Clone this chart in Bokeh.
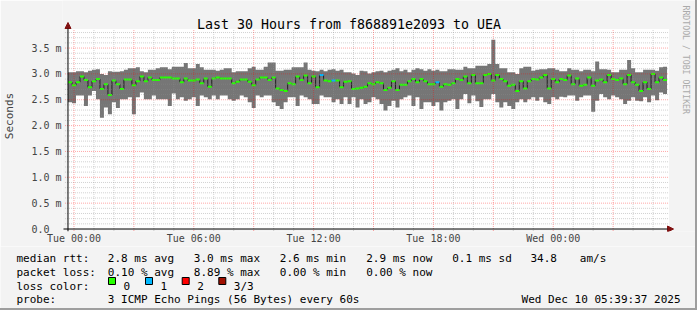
import numpy as np
from bokeh.plotting import figure
from bokeh.layouts import column
from bokeh.models import Range1d, FixedTicker, Arrow, NormalHead, Label
from bokeh.core.properties import value
from bokeh.embed import file_html
from bokeh.resources import INLINE

MONO = "DejaVu Sans Mono"

# ---------------- data ----------------
title_text = "Last 30 Hours from f868891e2093 to UEA"
first_step_hour = -0.3        # hours relative to Tue 00:00
step_hours = 0.2              # 12-minute consolidated steps

median_ms = [
    2.84, 2.78, 2.84, 2.95, 2.88, 2.74, 2.86, 2.90, 2.71, 2.80,
    2.59, 2.87, 2.80, 2.71, 2.89, 2.89, 2.78, 2.86, 2.95, 2.86,
    2.93, 2.88, 2.88, 2.93, 2.93, 2.93, 2.91, 2.91, 2.84, 2.91,
    2.87, 2.87, 2.89, 2.82, 2.91, 2.75, 2.91, 2.93, 2.91, 2.91,
    2.91, 2.82, 2.85, 2.89, 2.89, 2.85, 2.78, 2.89, 2.93, 2.93,
    2.88, 2.93, 2.72, 2.69, 2.67, 2.82, 2.80, 2.95, 2.88, 2.97,
    2.82, 2.95, 2.74, 2.98, 2.87, 2.86, 2.87, 2.87, 2.74, 2.85,
    2.86, 2.71, 2.72, 2.73, 2.75, 2.82, 2.80, 2.84, 2.82, 2.69,
    2.73, 2.86, 2.69, 2.79, 2.79, 2.86, 2.90, 2.84, 2.90, 2.86,
    2.80, 2.80, 2.84, 2.75, 2.80, 2.79, 2.82, 2.90, 2.88, 2.95,
    2.82, 2.98, 2.82, 2.82, 2.98, 3.00, 2.87, 2.98, 2.90, 2.86,
    2.77, 2.79, 2.67, 2.86, 2.72, 2.86, 2.90, 2.89, 2.93, 2.98,
    2.72, 2.90, 2.84, 2.90, 2.88, 2.97, 2.80, 2.91, 2.77, 2.79,
    2.93, 2.77, 2.87, 2.89, 2.84, 2.98, 2.90, 2.88, 2.91, 2.80,
    2.98, 2.84, 2.79, 2.67, 2.84, 2.71, 3.00, 2.84, 2.93, 2.88,
]
max_ms = [
    3.03, 3.03, 3.05, 3.05, 3.03, 3.06, 3.08, 3.09, 3.00, 2.98,
    3.05, 3.04, 3.04, 3.05, 3.08, 3.11, 3.11, 3.13, 3.05, 3.03,
    3.08, 3.08, 3.11, 3.13, 3.13, 3.09, 3.14, 3.14, 3.14, 3.21,
    3.11, 3.11, 3.19, 3.13, 3.08, 3.08, 3.08, 3.06, 3.08, 3.11,
    3.11, 3.03, 3.05, 3.05, 3.05, 3.11, 3.14, 3.08, 3.08, 3.14,
    3.22, 3.22, 3.06, 3.06, 3.08, 3.08, 3.13, 3.13, 3.13, 3.22,
    3.08, 3.06, 3.05, 3.08, 3.05, 3.08, 3.09, 3.06, 3.08, 3.03,
    3.03, 3.01, 2.98, 3.06, 3.05, 3.01, 3.03, 3.05, 3.06, 3.03,
    3.06, 3.08, 3.11, 3.05, 3.08, 3.03, 3.08, 3.11, 3.09, 3.06,
    3.09, 3.06, 3.08, 3.05, 3.05, 3.09, 3.09, 3.08, 3.08, 3.14,
    3.11, 3.11, 3.16, 3.16, 3.16, 3.19, 3.66, 3.19, 3.11, 3.11,
    3.03, 3.03, 3.00, 3.11, 3.14, 3.14, 3.06, 3.08, 3.09, 3.09,
    3.11, 3.11, 3.08, 3.05, 3.05, 3.11, 3.08, 3.08, 3.05, 3.08,
    3.08, 3.05, 3.24, 3.09, 3.09, 3.08, 3.03, 3.03, 3.08, 3.08,
    3.27, 3.11, 3.03, 3.03, 3.08, 3.08, 3.08, 3.06, 3.13, 3.14,
]
min_ms = [
    2.45, 2.43, 2.58, 2.58, 2.38, 2.58, 2.67, 2.51, 2.15, 2.35,
    2.22, 2.45, 2.34, 2.51, 2.51, 2.55, 2.22, 2.55, 2.64, 2.51,
    2.51, 2.58, 2.51, 2.51, 2.51, 2.38, 2.62, 2.51, 2.55, 2.48,
    2.51, 2.55, 2.38, 2.58, 2.55, 2.51, 2.58, 2.51, 2.58, 2.58,
    2.51, 2.48, 2.51, 2.58, 2.55, 2.45, 2.34, 2.58, 2.55, 2.58,
    2.58, 2.45, 2.38, 2.32, 2.45, 2.55, 2.55, 2.38, 2.58, 2.55,
    2.51, 2.42, 2.42, 2.58, 2.55, 2.55, 2.45, 2.51, 2.42, 2.55,
    2.42, 2.55, 2.35, 2.51, 2.42, 2.45, 2.55, 2.51, 2.42, 2.29,
    2.38, 2.48, 2.35, 2.51, 2.55, 2.58, 2.38, 2.55, 2.32, 2.45,
    2.45, 2.38, 2.45, 2.29, 2.45, 2.48, 2.51, 2.32, 2.51, 2.61,
    2.43, 2.58, 2.47, 2.36, 2.51, 2.51, 2.61, 2.45, 2.35, 2.45,
    2.38, 2.32, 2.45, 2.51, 2.45, 2.51, 2.55, 2.48, 2.55, 2.45,
    2.42, 2.55, 2.51, 2.56, 2.55, 2.58, 2.58, 2.48, 2.55, 2.58,
    2.58, 2.27, 2.48, 2.61, 2.55, 2.51, 2.58, 2.55, 2.51, 2.42,
    2.48, 2.55, 2.48, 2.47, 2.55, 2.45, 2.58, 2.49, 2.64, 2.61,
]
# steps that lost pings (step index -> lost pings out of 3)
lost_pings = {63: 1, 66: 1, 92: 1}

loss_colors = ["#26ff00", "#00b8ff", "#ff0000", "#a01000"]
loss_names = ["0", "1", "2", "3/3"]

x_major_hours = [0, 3, 6, 9, 12, 15, 18, 21, 24, 27]
x_minor_hours = [1, 2, 4, 5, 7, 8, 10, 11, 13, 14, 16, 17, 19, 20, 22, 23, 25, 26, 28, 29]
x_labels = {0: "Tue 00:00", 6: "Tue 06:00", 12: "Tue 12:00", 18: "Tue 18:00", 24: "Wed 00:00"}

y_major = [0.0, 0.5, 1.0, 1.5, 2.0, 2.5, 3.0, 3.5]
y_minor = [0.1, 0.2, 0.3, 0.4, 0.6, 0.7, 0.8, 0.9, 1.1, 1.2, 1.3, 1.4, 1.6, 1.7, 1.8, 1.9,
           2.1, 2.2, 2.3, 2.4, 2.6, 2.7, 2.8, 2.9, 3.1, 3.2, 3.3, 3.4, 3.6, 3.7, 3.8]
y_labels = {0.0: "0.0\u00a0\u00a0", 0.5: "0.5 m", 1.0: "1.0 m", 1.5: "1.5 m", 2.0: "2.0 m",
            2.5: "2.5 m", 3.0: "3.0 m", 3.5: "3.5 m"}

legend_rows = ["median rtt:", "packet loss:", "loss color:", "probe:"]
rtt_stats = ["2.8 ms avg", "3.0 ms max", "2.6 ms min", "2.9 ms now", "0.1 ms sd", "34.8", "am/s"]
loss_stats = ["0.10 % avg", "8.89 % max", "0.00 % min", "0.00 % now"]
probe_text = "3 ICMP Echo Pings (56 Bytes) every 60s"
stamp_text = "Wed Dec 10 05:39:37 2025"
credit_text = "RRDTOOL / TOBI OETIKER"

# ---------------- geometry ----------------
W = 695                      # + 2px css frame on the right = 697
MAIN_H, LEG_H = 246, 62      # + 2px css frame at the bottom = 310
FRAME_LEFT, FRAME_BOTTOM = 61, 231      # canvas px of the plot frame
PX_PER_H, PX_PER_MS = 20.0, 51.7
AXIS_X, AXIS_Y = 66.5, 228.5            # canvas px of the two axis lines
PLOT_W, PLOT_H = 602, 200               # white graph canvas in px


def h_at(px):      # canvas x -> hours
    return first_step_hour + (px - AXIS_X) / PX_PER_H


def ms_at(py):     # canvas y -> ms
    return (AXIS_Y - py) / PX_PER_MS


plot_left_h, plot_right_h = h_at(AXIS_X), h_at(AXIS_X + PLOT_W)
plot_top_ms = ms_at(AXIS_Y - PLOT_H)
fx0, fx1 = h_at(FRAME_LEFT), h_at(W)
fy0, fy1 = ms_at(FRAME_BOTTOM), ms_at(0)

n = len(median_ms)
starts = first_step_hour + step_hours * np.arange(n)
ends = starts + step_hours

p = figure(width=W, height=MAIN_H, output_backend="svg", toolbar_location=None,
           x_range=Range1d(fx0, fx1), y_range=Range1d(fy0, fy1),
           min_border_left=FRAME_LEFT, min_border_right=0,
           min_border_top=0, min_border_bottom=MAIN_H - FRAME_BOTTOM,
           background_fill_color="#f3f3f3", border_fill_color="#f3f3f3",
           outline_line_color=None)
p.frame_align = False
p.xgrid.visible = False
p.ygrid.visible = False

# axes (labels only; lines are drawn by the arrows)
p.xaxis.ticker = FixedTicker(ticks=x_major_hours, minor_ticks=x_minor_hours)
p.xaxis.major_label_overrides = {h: x_labels.get(h, "") for h in x_major_hours}
p.xaxis.major_label_text_font = MONO
p.xaxis.major_label_text_font_size = "10px"
p.xaxis.major_label_standoff = 1
p.xaxis.major_tick_out = 0
p.xaxis.major_tick_in = 0
p.xaxis.minor_tick_out = 0
p.xaxis.minor_tick_in = 0
p.xaxis.axis_line_color = None

p.yaxis.ticker = FixedTicker(ticks=y_major, minor_ticks=y_minor)
p.yaxis.major_label_overrides = y_labels
p.yaxis.major_label_text_font = MONO
p.yaxis.major_label_text_font_size = "10px"
p.yaxis.major_label_standoff = 1
p.yaxis.major_tick_out = 0
p.yaxis.major_tick_in = 0
p.yaxis.minor_tick_out = 0
p.yaxis.minor_tick_in = 0
p.yaxis.axis_line_color = None
p.yaxis.axis_label = "Seconds"
p.yaxis.axis_label_text_font = MONO
p.yaxis.axis_label_text_font_size = "11px"
p.yaxis.axis_label_text_font_style = "normal"
p.yaxis.axis_label_standoff = 12

# white graph canvas
p.quad(left=[plot_left_h], right=[plot_right_h], bottom=[0], top=[plot_top_ms],
       fill_color="white", line_color=None)

# smoke (min..max of the pings)
xb = list(starts) + [ends[-1]]
p.varea_step(x=xb, y1=min_ms + [min_ms[-1]], y2=max_ms + [max_ms[-1]],
             step_mode="after", fill_color="#767676")
# vertical connectors of the median
p.segment(x0=starts[1:], x1=starts[1:], y0=median_ms[:-1], y1=median_ms[1:],
          line_color="#202020", line_width=1)
# median coloured by loss
colors = [loss_colors[lost_pings.get(i, 0)] for i in range(n)]
p.segment(x0=starts, x1=ends, y0=median_ms, y1=median_ms, line_color=colors,
          line_width=2)

# dotted grid drawn over the graph, limited to the graph canvas (+ small ticks)
grid_bottom, grid_left = ms_at(AXIS_Y + 2), h_at(AXIS_X - 3)
p.segment(x0=x_minor_hours, x1=x_minor_hours, y0=[grid_bottom] * len(x_minor_hours),
          y1=[plot_top_ms] * len(x_minor_hours), line_color="#8f8f8f",
          line_alpha=0.4, line_dash="1 1", line_width=1)
p.segment(x0=[grid_left] * len(y_minor), x1=[plot_right_h] * len(y_minor),
          y0=y_minor, y1=y_minor, line_color="#8f8f8f", line_alpha=0.4,
          line_dash="1 1", line_width=1)
p.segment(x0=x_major_hours, x1=x_major_hours, y0=[grid_bottom] * len(x_major_hours),
          y1=[plot_top_ms] * len(x_major_hours), line_color="#ff0000",
          line_alpha=0.35, line_dash="1 1", line_width=1)
p.segment(x0=[grid_left] * (len(y_major) - 1), x1=[plot_right_h] * (len(y_major) - 1),
          y0=y_major[1:], y1=y_major[1:], line_color="#ff0000", line_alpha=0.35,
          line_dash="1 1", line_width=1)

# axes with arrow heads
head = dict(size=6, fill_color="#801010", line_color="#801010")
p.add_layout(Arrow(x_start=first_step_hour, y_start=fy0,
                   x_end=first_step_hour, y_end=ms_at(22),
                   line_color="black", line_width=1, end=NormalHead(**head)))
p.add_layout(Arrow(x_start=h_at(62), y_start=0, x_end=h_at(673), y_end=0,
                   line_color="black", line_width=1, end=NormalHead(**head)))

# title and credit (inside the frame, screen px from frame bottom-left)
p.add_layout(Label(x=347.5 - FRAME_LEFT, y=FRAME_BOTTOM - 24, x_units="screen",
                   y_units="screen", text=title_text, text_font=MONO,
                   text_font_size="13.3px", text_align="center",
                   text_baseline="alphabetic", text_color="black"))
p.add_layout(Label(x=684.5 - FRAME_LEFT, y=FRAME_BOTTOM - 5, x_units="screen",
                   y_units="screen", text=credit_text, text_font=MONO,
                   text_font_size="8.2px", text_align="left",
                   text_baseline="alphabetic", text_color="#aaaaaa",
                   angle=-np.pi / 2))

# ---------------- legend block (a second figure below) ----------------
# coordinates are pixels of this block: x from left edge, y from its top
lg = figure(width=W, height=LEG_H, output_backend="svg", toolbar_location=None,
            x_range=Range1d(0, W), y_range=Range1d(LEG_H, 0),
            min_border=0, background_fill_color="#f3f3f3",
            border_fill_color="#f3f3f3", outline_line_color=None)
lg.frame_align = False
lg.axis.visible = False
lg.grid.visible = False

row_y = [11.5, 25.5, 39.5, 53.3]
col_x = [107.3, 193.3, 279.3, 365.7, 451.7, 530.0, 579.3]
tx, ty, tt = [], [], []
for yy, lab in zip(row_y, legend_rows):
    tx.append(16); ty.append(yy); tt.append(lab)
for xx, s in zip(col_x, rtt_stats):
    tx.append(xx); ty.append(row_y[0]); tt.append(s)
for xx, s in zip(col_x, loss_stats):
    tx.append(xx); ty.append(row_y[1]); tt.append(s)
sq_x = [108, 145, 181.7, 218.3]
for xx, name in zip(sq_x, loss_names):
    tx.append(xx + 15); ty.append(row_y[2]); tt.append(name)
tx.append(107.3); ty.append(row_y[3]); tt.append(probe_text)
lg.text(x=tx, y=ty, text=tt, text_font=value(MONO), text_font_size=value("11px"),
        text_baseline="alphabetic", text_align="left", text_color="black")
lg.text(x=[680], y=[row_y[3]], text=[stamp_text], text_font=value(MONO),
        text_font_size=value("11px"), text_baseline="alphabetic",
        text_align="right", text_color="black")
lg.quad(left=sq_x, right=[s + 7 for s in sq_x], top=[31] * 4, bottom=[38] * 4,
        fill_color=loss_colors, line_color="black", line_width=1)

layout = column(p, lg, spacing=0,
                styles={"border-right": "2px solid #9e9e9e",
                        "border-bottom": "2px solid #9e9e9e"})

open("out.html", "w").write(file_html(layout, INLINE))
